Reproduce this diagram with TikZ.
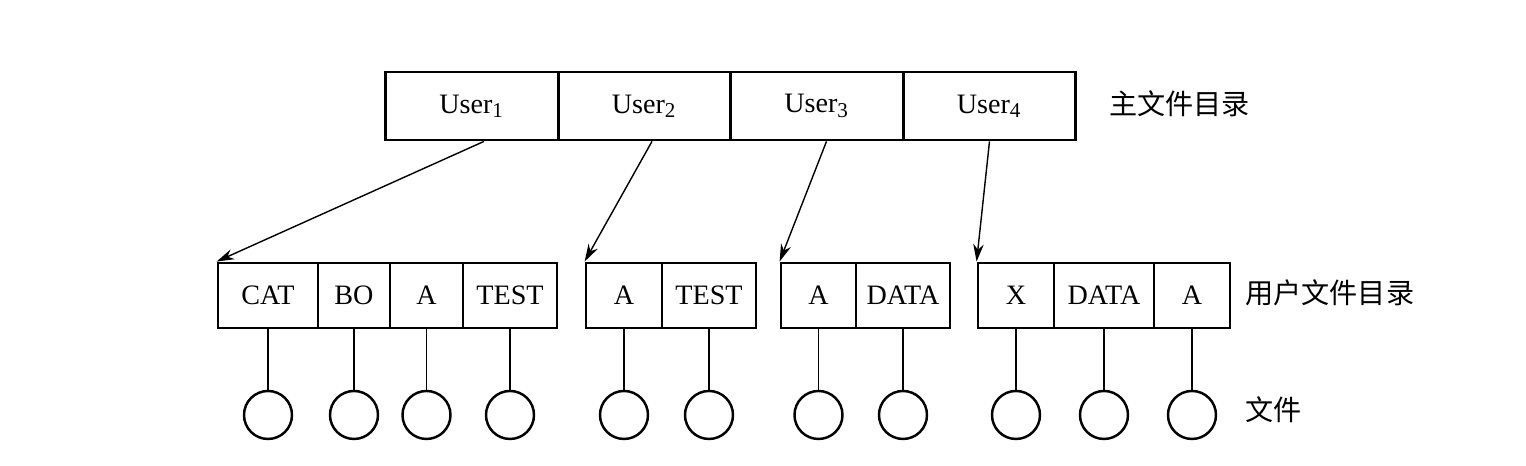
\documentclass[tikz,border=0pt]{standalone}
\usepackage{fontspec}
\setmainfont{Liberation Serif}
\newfontfamily\cjk{Noto Sans CJK SC}
\usepackage{tikz}
\usetikzlibrary{positioning,arrows.meta}

\begin{document}
\begin{tikzpicture}[
		cell/.style={draw, line width=0.8pt, inner sep=0pt, minimum height=0.65cm, font=\fontsize{8}{10}\selectfont},
		ucell/.style={cell, minimum width=1.725cm, minimum height=0.68cm},
		file/.style={draw, circle, line width=0.7pt, minimum size=0.48cm, inner sep=0pt},
		ptr/.style={-{Stealth[length=5pt,width=3pt]}, line width=0.4pt},
		lbl/.style={font=\cjk\fontsize{8}{10}\selectfont, anchor=west}]
				\useasboundingbox (0,0) rectangle (15.26,4.66);
				% main directory
				\node[ucell] (u1) at (4.72, 3.60) {User\textsubscript{1}};
				\node[ucell] (u2) at (6.445, 3.60) {User\textsubscript{2}};
				\node[ucell] (u3) at (8.17, 3.60) {User\textsubscript{3}};
				\node[ucell] (u4) at (9.895, 3.60) {User\textsubscript{4}};
				\node[lbl] (mfd) at (10.97, 3.62) {主文件目录};
				% user directories
				\node[cell, minimum width=1.00cm] (cat) at (2.68, 1.705) {CAT};
				\node[cell, minimum width=0.72cm] (bo) at (3.54, 1.705) {BO};
				\node[cell, minimum width=0.73cm] (a1) at (4.265, 1.705) {A};
				\node[cell, minimum width=0.94cm] (test1) at (5.10, 1.705) {TEST};
				\node[cell, minimum width=0.76cm] (a2) at (6.24, 1.705) {A};
				\node[cell, minimum width=0.94cm] (test2) at (7.09, 1.705) {TEST};
				\node[cell, minimum width=0.75cm] (a3) at (8.185, 1.705) {A};
				\node[cell, minimum width=0.94cm] (data3) at (9.03, 1.705) {DATA};
				\node[cell, minimum width=0.76cm] (x4) at (10.16, 1.705) {X};
				\node[cell, minimum width=1.00cm] (data4) at (11.04, 1.705) {DATA};
				\node[cell, minimum width=0.76cm] (a4) at (11.92, 1.705) {A};
				\node[lbl] (ufd) at (12.33, 1.73) {用户文件目录};
				% files
				\foreach \c in {cat,bo,a1,test1,a2,test2,a3,data3,x4,data4,a4} {
					\node[file] (f-\c) at (\c |- 0,0.51) {};
					\draw[line width=0.4pt] (\c) ++(0,-0.325) -- (f-\c.north);
				}
				\node[lbl] (fl) at (12.33, 0.56) {文件};
				% pointers
				\draw[ptr] ([xshift=0.12cm]u1.south) -- (cat.north west);
				\draw[ptr] ([xshift=0.075cm]u2.south) -- (a2.north west);
				\draw[ptr] ([xshift=0.095cm]u3.south) -- (a3.north west);
				\draw[ptr] (u4.south) -- (x4.north west);
				\end{tikzpicture}
\end{document}
